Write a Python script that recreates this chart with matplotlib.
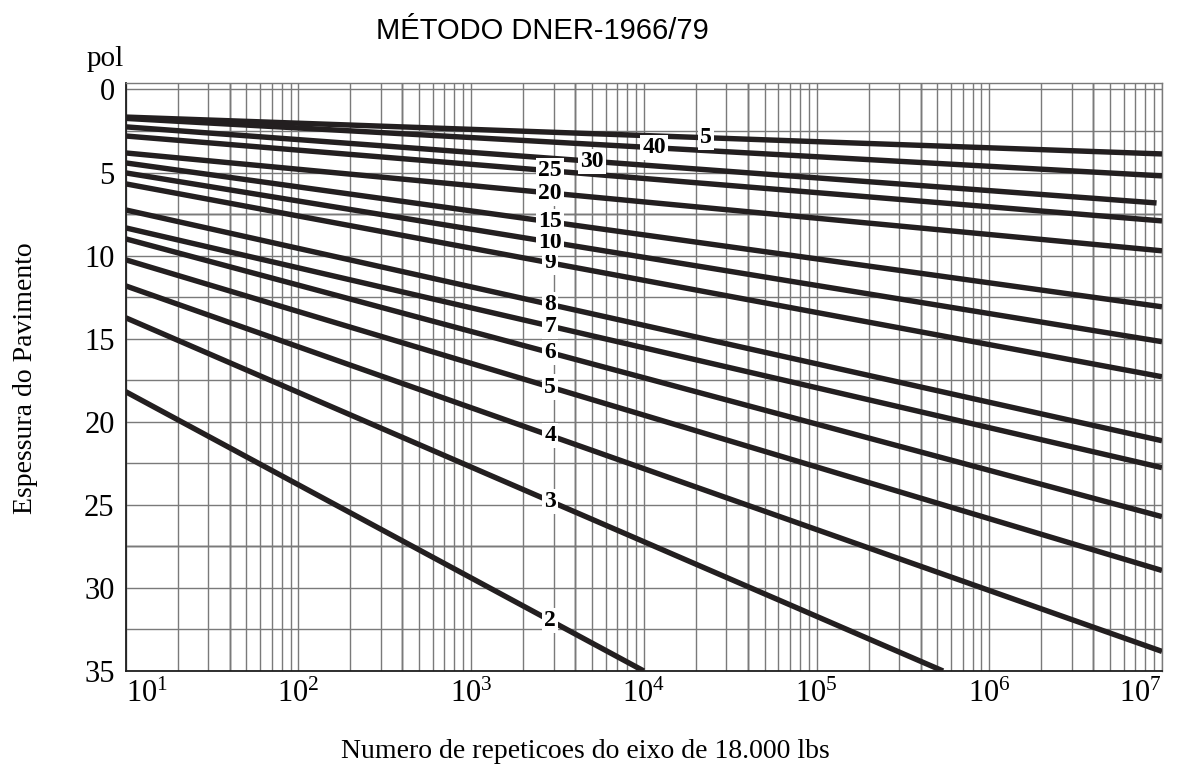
import numpy as np
import matplotlib
matplotlib.use("Agg")
import matplotlib.pyplot as plt

# ---- data ----
curve_labels = ['2', '3', '4', '5', '6', '7', '8', '9', '10', '15', '20', '25', '30', '40', '5']
n_start = [10, 10, 10, 10, 10, 10, 10, 10, 10, 10, 10, 10, 10, 10, 10]
y_start = [18.19, 13.74, 11.82, 10.25, 8.99, 8.33, 7.25, 5.68, 5.02, 4.42, 3.82, 2.80, 2.25, 1.74, 1.66]
n_end = [1.0e4, 5.4e5, 1e7, 1e7, 1e7, 1e7, 1e7, 1e7, 1e7, 1e7, 1e7, 1e7, 9.3e6, 1e7, 1e7]
y_end = [35.0, 35.0, 33.82, 28.95, 25.71, 22.76, 21.14, 17.29, 15.18, 13.08, 9.71, 7.91, 6.83, 5.20, 3.88]
label_n = [2870, 2870, 2870, 2870, 2870, 2870, 2870, 2870, 2870, 2870, 2870, 2870, 5000, 11500, 22900]

y_ticks = [0, 5, 10, 15, 20, 25, 30, 35]
x_ticks = [1e1, 1e2, 1e3, 1e4, 1e5, 1e6, 1e7]
x_tick_labels = [r'$\mathregular{10^{1}}$', r'$\mathregular{10^{2}}$', r'$\mathregular{10^{3}}$',
                 r'$\mathregular{10^{4}}$', r'$\mathregular{10^{5}}$', r'$\mathregular{10^{6}}$',
                 r'$\mathregular{10^{7}}$']
title = 'MÉTODO DNER-1966/79'
unit_label = 'pol'
x_label = 'Numero de repeticoes do eixo de 18.000 lbs'
y_label = 'Espessura do Pavimento'

# ---- style ----
plt.rcParams['mathtext.fontset'] = 'custom'
plt.rcParams['mathtext.rm'] = 'Liberation Serif'
plt.rcParams['mathtext.it'] = 'Liberation Serif:italic'
plt.rcParams['mathtext.bf'] = 'Liberation Serif:bold'
serif = 'Liberation Serif'
sans = 'Liberation Sans'
line_color = '#231f20'
grid_gray = '#7a7a7a'

W, H = 1177, 771
fig = plt.figure(figsize=(W / 100, H / 100), dpi=100)
left, right, top, bottom = 125.7, 1162, 83, 671
ax = fig.add_axes([left / W, (H - bottom) / H, (right - left) / W, (bottom - top) / H])
ax.set_xscale('log')
ax.set_xlim(10, 1e7)
ax.set_ylim(35, -0.39)

# grid
minor_x = [m * 10 ** e for e in range(1, 7) for m in range(2, 10)]
ax.set_xticks(x_ticks)
ax.set_xticklabels(x_tick_labels, fontfamily=serif, fontsize=22)
ax.set_xticks(minor_x, minor=True)
ax.set_yticks(y_ticks)
ax.set_yticklabels([str(v) for v in y_ticks], fontfamily=serif, fontsize=22)
ax.set_yticks([v + 2.5 for v in y_ticks[:-1]], minor=True)
ax.tick_params(which='both', length=0)
ax.tick_params(axis='x', pad=6)
ax.tick_params(axis='y', pad=8)
xt = ax.get_xticklabels()
xt[0].set_horizontalalignment('left')
xt[-1].set_horizontalalignment('right')
ax.grid(which='both', color=grid_gray, lw=1.0, zorder=0)
for e in range(1, 7):
    ax.axvline(4 * 10 ** e, color='#1e1e1e', lw=1.0, zorder=0.5)
for v in (7.5, 27.5):
    ax.axhline(v, color='#1e1e1e', lw=1.0, zorder=0.5)

for s in ('top', 'right'):
    ax.spines[s].set_color(grid_gray)
    ax.spines[s].set_linewidth(1.0)
for s in ('left', 'bottom'):
    ax.spines[s].set_color('#1e1e1e')
    ax.spines[s].set_linewidth(1.3)

# curves and their labels
for lab, n0, y0, n1, y1, nl in zip(curve_labels, n_start, y_start, n_end, y_end, label_n):
    ax.plot([n0, n1], [y0, y1], color=line_color, lw=3.9, solid_capstyle='butt', zorder=3)
    t = (np.log10(nl) - np.log10(n0)) / (np.log10(n1) - np.log10(n0))
    yl = y0 + t * (y1 - y0)
    ax.text(nl, yl, lab, ha='center', va='center', fontfamily=serif, fontweight='bold',
            fontsize=17, zorder=5,
            bbox=dict(facecolor='white', edgecolor='none', pad=1.5))

# texts
fig.text(542 / W, (H - 31) / H, title, ha='center', va='center', fontfamily=sans, fontsize=21)
fig.text(87 / W, (H - 66) / H, unit_label, ha='left', va='baseline', fontfamily=serif, fontsize=21)
fig.text(585 / W, (H - 758) / H, x_label, ha='center', va='baseline', fontfamily=serif, fontsize=20)
fig.text(26 / W, (H - 378) / H, y_label, ha='center', va='center', rotation=90,
         fontfamily=serif, fontsize=20)

fig.savefig('out.png', dpi=100)
